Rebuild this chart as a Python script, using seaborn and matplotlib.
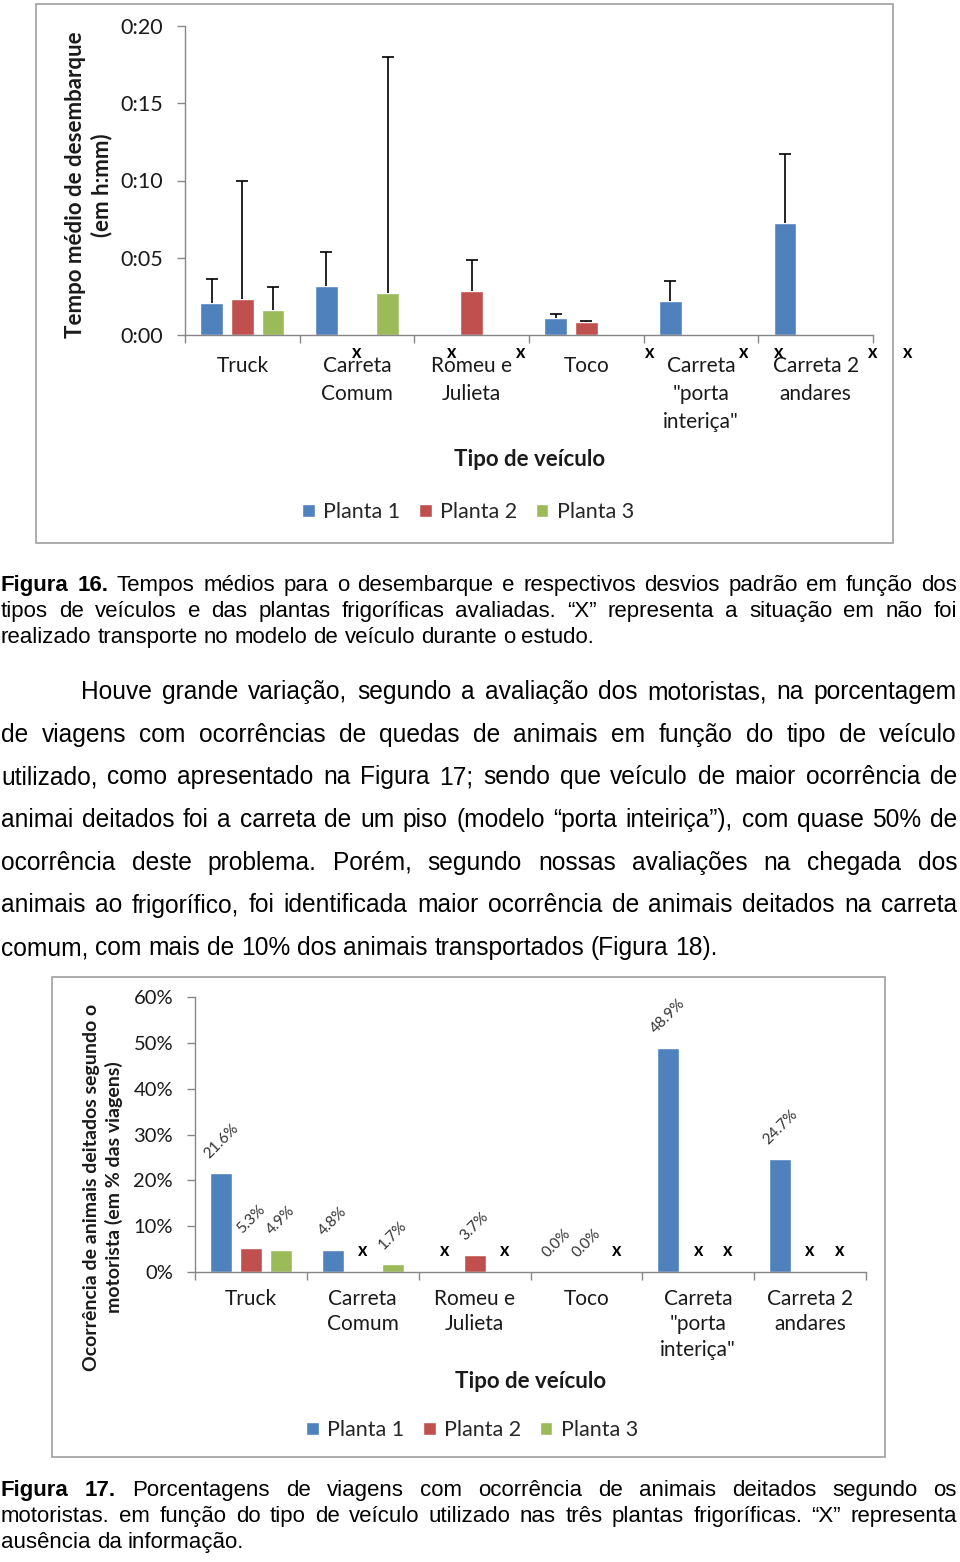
import matplotlib
matplotlib.use("Agg")
import numpy as np
import pandas as pd
import seaborn as sns
import matplotlib.pyplot as plt
from matplotlib import transforms as mtransforms
from matplotlib.font_manager import FontProperties
from matplotlib.patches import Rectangle
from matplotlib.container import BarContainer
from matplotlib.ticker import FuncFormatter, PercentFormatter

# ---------------- data ----------------
categories = ["Truck", "Carreta\nComum", "Romeu e\nJulieta", "Toco",
              "Carreta\n\"porta\ninteriça\"", "Carreta 2\nandares"]
plantas = ["Planta 1", "Planta 2", "Planta 3"]
colors = ["#4F81BD", "#C0504D", "#9BBB59"]

nan = np.nan
# Figure 16: mean unloading time (minutes) and standard deviation (minutes)
tempo_p1 = [2.1, 3.2, nan, 1.1, 2.2, 7.25]
tempo_p2 = [2.35, nan, 2.85, 0.85, nan, nan]
tempo_p3 = [1.65, 2.7, nan, nan, nan, nan]
dp_p1 = [1.5, 2.15, nan, 0.25, 1.3, 4.45]
dp_p2 = [7.65, nan, 2.0, 0.06, nan, nan]
dp_p3 = [1.45, 15.3, nan, nan, nan, nan]

# Figure 17: % of trips with lying animals (drivers)
ocor_p1 = [21.6, 4.8, nan, 0.0, 48.9, 24.7]
ocor_p2 = [5.3, nan, 3.7, 0.0, nan, nan]
ocor_p3 = [4.9, 1.7, nan, nan, nan, nan]

y1_ticks = [0, 5, 10, 15, 20]
y2_ticks = [0, 10, 20, 30, 40, 50, 60]

caption16 = [
    [("Figura", True), ("16.", True)] + [(w, False) for w in "Tempos médios para o desembarque e respectivos desvios padrão em função dos".split()],
    [(w, False) for w in "tipos de veículos e das plantas frigoríficas avaliadas. “X” representa a situação em não foi".split()],
    [(w, False) for w in "realizado transporte no modelo de veículo durante o estudo.".split()],
]
paragraph = [
    "Houve grande variação, segundo a avaliação dos motoristas, na porcentagem",
    "de viagens com ocorrências de quedas de animais em função do tipo de veículo",
    "utilizado, como apresentado na Figura 17; sendo que veículo de maior ocorrência de",
    "animai deitados foi a carreta de um piso (modelo “porta inteiriça”), com quase 50% de",
    "ocorrência deste problema. Porém, segundo nossas avaliações na chegada dos",
    "animais ao frigorífico, foi identificada maior ocorrência de animais deitados na carreta",
    "comum, com mais de 10% dos animais transportados (Figura 18).",
]
caption17 = [
    [("Figura", True), ("17.", True)] + [(w, False) for w in "Porcentagens de viagens com ocorrência de animais deitados segundo os".split()],
    [(w, False) for w in "motoristas. em função do tipo de veículo utilizado nas três plantas frigoríficas. “X” representa".split()],
    [(w, False) for w in "ausência da informação.".split()],
]

# ---------------- setup ----------------
sns.set_theme(style="white")
plt.rcParams["font.family"] = ["Lato", "DejaVu Sans"]

W, H = 960, 1562
fig = plt.figure(figsize=(W / 100, H / 100), dpi=100)
fig.patch.set_facecolor("white")


def fx(px):
    return px / W


def fy(py):
    return 1 - py / H


def long_df(series, name):
    rows = []
    for p, vals in zip(plantas, series):
        for c, v in zip(categories, vals):
            if not np.isnan(v):
                rows.append({"Tipo": c, "Planta": p, name: v})
    return pd.DataFrame(rows)


def bars_of(ax):
    return [b for c in list(ax.containers) if isinstance(c, BarContainer) for b in c]


AX_COL = "#868686"
TXT = "#1a1a1a"
step = 0.8 / 3


def style_axes(ax, tick_pad_x, linesp, ylabsize):
    sns.despine(ax=ax)
    for s in ("left", "bottom"):
        ax.spines[s].set_color(AX_COL)
        ax.spines[s].set_linewidth(1.0)
    ax.set_xlim(-0.5, 5.5)
    ax.set_xticks(np.arange(-0.5, 6.0, 1.0))
    ax.set_xticklabels([])
    ax.set_xticks(np.arange(6), minor=True)
    ax.set_xticklabels(categories, minor=True, fontsize=15, color=TXT, linespacing=linesp)
    ax.tick_params(axis="x", which="major", length=5.8, width=1, color=AX_COL, direction="out", bottom=True)
    ax.tick_params(axis="x", which="minor", length=0, pad=tick_pad_x, bottom=True)
    ax.tick_params(axis="y", length=5.8, width=1, color=AX_COL, direction="out", pad=10,
                   labelsize=ylabsize, labelcolor=TXT, left=True)
    ax.grid(False)
    ax.set_facecolor("white")


LEG_KW = dict(ncol=3, frameon=False, title=None, fontsize=15.5, handlelength=0.6,
              handleheight=0.6, handletextpad=0.4, columnspacing=0.85)

# ---------------- Figure 16 chart ----------------
ax1 = fig.add_axes([fx(185), fy(335), (873 - 185) / W, (335 - 26) / H])
df1 = long_df([tempo_p1, tempo_p2, tempo_p3], "Tempo")
sns.barplot(data=df1, x="Tipo", y="Tempo", hue="Planta", order=categories,
            hue_order=plantas, palette=colors, saturation=1, width=0.8, gap=0.26,
            errorbar=None, ax=ax1)
sds = [dp_p1, dp_p2, dp_p3]
for bar in bars_of(ax1):
    xc = bar.get_x() + bar.get_width() / 2
    ci = int(round(xc))
    hi = int(round((xc - ci) / step)) + 1
    sd = sds[hi][ci]
    if np.isnan(sd):
        continue
    eb = ax1.errorbar(xc, bar.get_height(), yerr=[[0], [sd]], fmt="none", ecolor="black",
                      elinewidth=1.2, capsize=4, capthick=1.2, zorder=5)
    # keep only the upper cap
    for cap in eb[1]:
        if np.allclose(cap.get_ydata(), bar.get_height()):
            cap.set_visible(False)
ax1.set_ylim(0, 20)
ax1.set_yticks(y1_ticks)
ax1.yaxis.set_major_formatter(FuncFormatter(lambda v, p: f"{int(v // 60)}:{int(v % 60):02d}"))
style_axes(ax1, 15, 1.5, 15.5)
ax1.set_ylabel("Tempo médio de desembarque\n(em h:mm)", fontsize=16, fontweight="bold",
               color=TXT, va="center", linespacing=1.25)
ax1.yaxis.set_label_coords((89 - 185) / 688, (335 - 185) / 309)
ax1.set_xlabel("Tipo de veículo", fontsize=16, fontweight="bold", color=TXT, va="center")
ax1.xaxis.set_label_coords((530 - 185) / 688, (335 - 459) / 309)

# "x" marks for missing bars (as placed in the original figure)
trans_x1 = mtransforms.offset_copy(ax1.get_xaxis_transform(), fig=fig, x=0, y=-18, units="dots")
tempos = [tempo_p1, tempo_p2, tempo_p3]
for hi, vals in enumerate(tempos):
    for ci, v in enumerate(vals):
        if np.isnan(v):
            pos = ci + (hi - 1) * step
            pos = 1 + (pos - 1) * 1.125
            ax1.text(pos, 0, "x", transform=trans_x1, ha="center", va="center",
                     fontsize=13, fontweight="bold", color="black", clip_on=False)

sns.move_legend(ax1, "center", bbox_to_anchor=(fx(468), fy(512)), bbox_transform=fig.transFigure,
                **LEG_KW)

fig.add_artist(Rectangle((fx(36), fy(543)), (893 - 36) / W, (543 - 4) / H,
                         transform=fig.transFigure, fill=False, ec="#a6a6a6", lw=1.3))

# ---------------- Figure 17 chart ----------------
ax2 = fig.add_axes([fx(195), fy(1272), (866 - 195) / W, (1272 - 997) / H])
df2 = long_df([ocor_p1, ocor_p2, ocor_p3], "Ocorrencia")
sns.barplot(data=df2, x="Tipo", y="Ocorrencia", hue="Planta", order=categories,
            hue_order=plantas, palette=colors, saturation=1, width=0.8, gap=0.26,
            errorbar=None, ax=ax2)
ax2.set_ylim(0, 60)
ax2.set_yticks(y2_ticks)
ax2.yaxis.set_major_formatter(PercentFormatter(decimals=0))
style_axes(ax2, 12, 1.35, 14.5)
ax2.set_ylabel("Ocorrência de animais deitados segundo o\nmotorista (em % das viagens)", fontsize=14,
               fontweight="bold", color=TXT, va="center", linespacing=1.3)
ax2.yaxis.set_label_coords((103 - 195) / 671, (1272 - 1187) / 275)
ax2.set_xlabel("Tipo de veículo", fontsize=16, fontweight="bold", color=TXT, va="center")
ax2.xaxis.set_label_coords((531 - 195) / 671, (1272 - 1382) / 275)

trans_lab = mtransforms.offset_copy(ax2.transData, fig=fig, x=0, y=12, units="dots")
for bar in bars_of(ax2):
    xc = bar.get_x() + bar.get_width() / 2
    h = bar.get_height()
    ax2.text(xc, h, f"{h:.1f}%", transform=trans_lab, rotation=45, ha="center", va="bottom",
             fontsize=11, color="#333333")

trans_x2 = mtransforms.offset_copy(ax2.transData, fig=fig, x=0, y=21, units="dots")
ocors = [ocor_p1, ocor_p2, ocor_p3]
for hi, vals in enumerate(ocors):
    for ci, v in enumerate(vals):
        if np.isnan(v):
            pos = ci + (hi - 1) * step
            ax2.text(pos, 0, "x", transform=trans_x2, ha="center", va="center",
                     fontsize=13, fontweight="bold", color="black", clip_on=False)

sns.move_legend(ax2, "center", bbox_to_anchor=(fx(472), fy(1430)), bbox_transform=fig.transFigure,
                **LEG_KW)

fig.add_artist(Rectangle((fx(52), fy(1457)), (885 - 52) / W, (1457 - 977) / H,
                         transform=fig.transFigure, fill=False, ec="#a6a6a6", lw=1.3))

# ---------------- body text (justified) ----------------
renderer = fig.canvas.get_renderer()


def fp(size, bold=False):
    return FontProperties(family="Liberation Sans", size=size, weight="bold" if bold else "normal")


def width(s, prop):
    w, h, d = renderer.get_text_width_height_descent(s, prop, ismath=False)
    return w


def fit_size(words, target):
    base = 14.0
    tot = sum(width(w, fp(base, b)) for w, b in words)
    sp = width("a a", fp(base)) - 2 * width("a", fp(base))
    tot += sp * (len(words) - 1)
    return base * target / tot


def draw_lines(lines, size, x_left, x_right, baseline0, spacing, indent=0):
    for i, words in enumerate(lines):
        y = baseline0 + i * spacing
        x0 = x_left + (indent if i == 0 else 0)
        widths = [width(w, fp(size, b)) for w, b in words]
        last = i == len(lines) - 1
        if last:
            gap = width("a a", fp(size)) - 2 * width("a", fp(size))
        else:
            gap = (x_right - x0 - sum(widths)) / (len(words) - 1)
        x = x0
        for (w, b), wd in zip(words, widths):
            fig.text(fx(x), fy(y), w, fontproperties=fp(size, b), ha="left", va="baseline", color="black")
            x += wd + gap


s16 = fit_size(caption16[-1], 600)
draw_lines(caption16, s16, 1, 957, 591, 26)

para_words = [[(w, False) for w in line.split()] for line in paragraph]
sp_ = fit_size(para_words[-1], 722)
draw_lines(para_words, sp_, 1, 957, 699, 42.7, indent=80)

s17 = fit_size(caption17[-1], 245)
draw_lines(caption17, s17, 1, 957, 1496, 26)

fig.savefig("out.png", dpi=100, facecolor="white")
